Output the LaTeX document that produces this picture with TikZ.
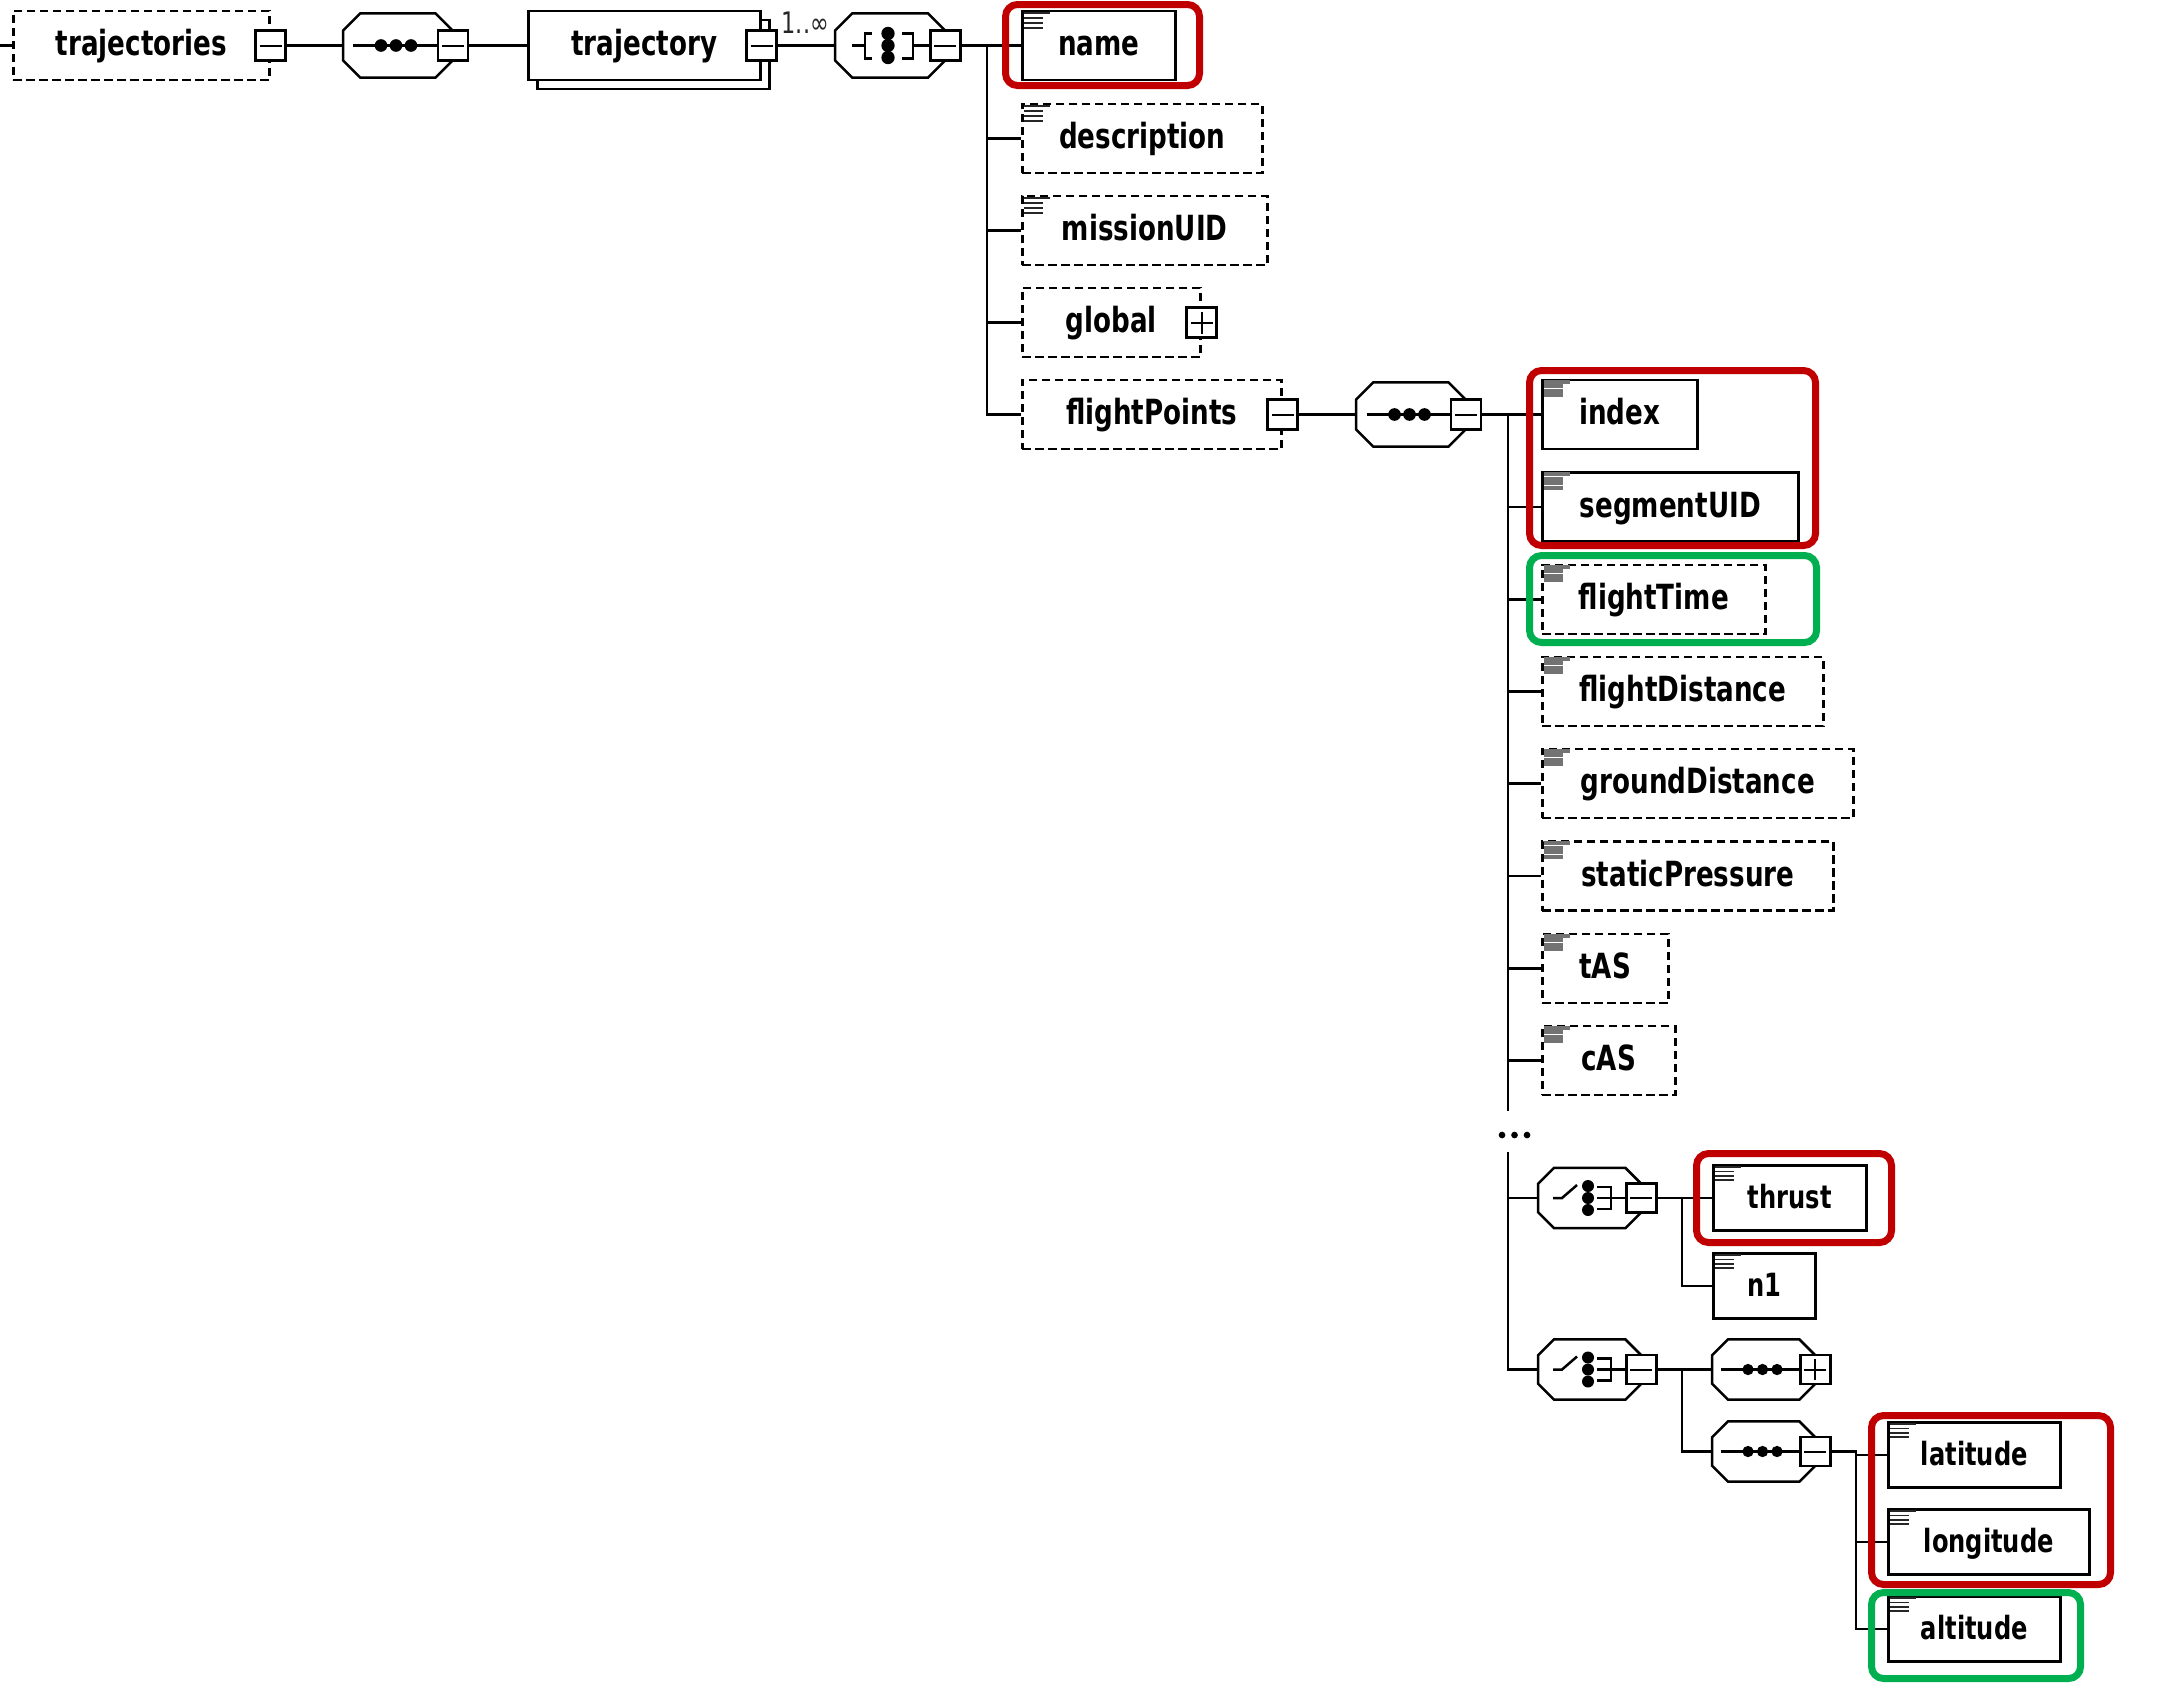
\documentclass[tikz,border=0pt]{standalone}
\usepackage{fontspec}
\usetikzlibrary{calc}
\newfontfamily\lblfont{DejaVu Sans}[FakeStretch=0.755]
\definecolor{hlred}{HTML}{C00000}
\definecolor{hlgreen}{HTML}{00B050}

% octagon outline drawn around a frameless placeholder node (#2 = chamfer)
\newcommand\octframe[2]{%
  \draw[ln,fill=white] ([xshift=#2]#1.north west) -- ([xshift=-#2]#1.north east)
    -- ([yshift=-#2]#1.north east) -- ([yshift=#2]#1.south east)
    -- ([xshift=-#2]#1.south east) -- ([xshift=#2]#1.south west)
    -- ([yshift=#2]#1.south west) -- ([yshift=-#2]#1.north west) -- cycle;}
% sequence compositor: line with three dots
\newcommand\seqicon[6]{%
  \draw[ln] ($(#1.west)+(#3,0)$) -- (#2.west);
  \foreach \k in {0,1,2}{\fill ($(#1.west)+(#4+\k*#5,0)$) circle (#6);}}
% choice compositor with switch symbol
\newcommand\switchicon[2]{%
  \draw[ln] ($(#1.west)+(15,0)$) -- ++(9,0) -- ++(15,-13);
  \foreach \k in {-12,0,12}{\fill ($(#1.west)+(50,\k)$) circle (1.8pt);}
  \draw[ln] ($(#1.west)+(59,-11)$) -- ++(14,0) -- ++(0,22) -- ++(-14,0);
  \draw[ln] ($(#1.west)+(59,0)$) -- (#2.west);}
% simple-content marker in the upper left corner of an element box
\newcommand\txticon[4]{%
  \draw[#2,line width=#3] ($(#1.north west)+(3,3)$) -- ++(26,0);
  \foreach \k in {1,2,3}{\draw[#2,line width=#3] ($(#1.north west)+(3,3+\k*#4)$) -- ++(19,0);}}

\begin{document}
\begin{tikzpicture}[x=0.3pt,y=-0.3pt,
  ln/.style={line width=0.75pt,draw=black},
  elem/.style={ln,fill=white,anchor=west,inner sep=0pt,minimum height=20.7pt,
    text height=6pt,text depth=0pt,font=\lblfont\bfseries\fontsize{10.4pt}{12pt}\selectfont},
  elemsm/.style={elem,minimum height=19.5pt,font=\lblfont\bfseries\fontsize{9.6pt}{11pt}\selectfont},
  opt/.style={dash pattern=on 2.5pt off 1.4pt},
  bw/.style={minimum width=#1*0.3pt},
  bh/.style={minimum height=#1*0.3pt},
  octa/.style={anchor=west,inner sep=0pt},
  btn/.style={ln,fill=white,inner sep=0pt,minimum width=9pt,minimum height=9pt},
  minusbtn/.style={btn,path picture={\draw[line width=0.6pt]
      ([xshift=1.2pt]path picture bounding box.west) -- ([xshift=-1.2pt]path picture bounding box.east);}},
  plusbtn/.style={btn,path picture={\draw[line width=0.6pt]
      ([xshift=1.2pt]path picture bounding box.west) -- ([xshift=-1.2pt]path picture bounding box.east)
      ([yshift=-1.2pt]path picture bounding box.north) -- ([yshift=1.2pt]path picture bounding box.south);}},
  smallbtn/.style={minimum height=8.7pt},
  hl/.style={line width=2.1pt,rounded corners=3.6pt},
]
\useasboundingbox (0,0) rectangle (2170,1683);

% ---------- top row ----------
\node[elem,opt,bw=256] (trajectories) at (12,45.5) {trajectories};
\node[minusbtn] (trajectoriesBtn) at (trajectories.east) {};

\node[octa,bw=108.5,bh=63] (seqTop) at (343,45.5) {};
\octframe{seqTop}{5.2pt}
\node[minusbtn] (seqTopBtn) at (seqTop.east) {};
\seqicon{seqTop}{seqTopBtn}{10}{38}{15}{1.9pt}

\node[elem,bw=232] (trajectoryCopy) at (536,54.5) {};
\node[elem,bw=232] (trajectory) at (527,45.5) {trajectory};
\node[minusbtn] (trajectoryBtn) at (trajectory.east) {};
\node[anchor=base west,inner sep=0pt,font=\lblfont\fontsize{8.9pt}{10pt}\selectfont,text=black!85]
  (occurs) at (781,33) {1..∞};

\node[octa,bw=109,bh=63] (choiceTop) at (835,45.5) {};
\octframe{choiceTop}{5.2pt}
\node[minusbtn] (choiceTopBtn) at (choiceTop.east) {};
\draw[ln] ($(choiceTop.west)+(17,0)$) -- ++(13,0) ++(7,-12) -- ++(-7,0) -- ++(0,25) -- ++(7,0);
\foreach \k in {-12,0,12}{\fill ($(choiceTop.west)+(53,\k)$) circle (2pt);}
\draw[ln] ($(choiceTop.west)+(67,-12)$) -- ++(11,0) -- ++(0,25) -- ++(-11,0);
\draw[ln] ($(choiceTop.west)+(78,0)$) -- (choiceTopBtn.west);

\coordinate (root) at (0,45.5);
\draw[ln] (root) -- (trajectories.west);
\draw[ln] (trajectoriesBtn.east) -- (seqTop.west);
\draw[ln] (seqTopBtn.east) -- (trajectory.west);
\draw[ln] (trajectoryBtn.east) -- (choiceTop.west);

% ---------- trajectory children ----------
\node[elem,bw=153] (name) at (1021,45.5) {name};
\node[elem,opt,bw=240] (description) at (1021,138.5) {description};
\node[elem,opt,bw=245] (missionUID) at (1021,230.5) {missionUID};
\node[elem,opt,bw=178] (global) at (1021,322.5) {global};
\node[plusbtn] (globalBtn) at (global.east) {};
\node[elem,opt,bw=259] (flightPoints) at (1021,414.5) {flightPoints};
\node[minusbtn] (flightPointsBtn) at (flightPoints.east) {};
\foreach \n in {name,description,missionUID}{\txticon{\n}{black!85}{0.5pt}{5}}

\coordinate (trunkA) at (987,45.5);
\draw[ln] (choiceTopBtn.east) -- (name.west);
\draw[ln] (trunkA) |- (flightPoints.west);
\foreach \n in {description,missionUID,global}{\draw[ln] (trunkA |- \n.west) -- (\n.west);}

% ---------- flight point sequence ----------
\node[octa,bw=108.5,bh=63] (pointSeq) at (1356,414.5) {};
\octframe{pointSeq}{5.2pt}
\node[minusbtn] (pointSeqBtn) at (pointSeq.east) {};
\seqicon{pointSeq}{pointSeqBtn}{11}{38.5}{15}{1.9pt}
\draw[ln] (flightPointsBtn.east) -- (pointSeq.west);

\node[elem,bw=155] (index) at (1541,414.5) {index};
\node[elem,bw=256] (segmentUID) at (1541,507) {segmentUID};
\node[elem,opt,bw=223] (flightTime) at (1541,599.5) {flightTime};
\node[elem,opt,bw=281] (flightDistance) at (1541,691.5) {flightDistance};
\node[elem,opt,bw=311] (groundDistance) at (1541,783.5) {groundDistance};
\node[elem,opt,bw=291] (staticPressure) at (1541,876) {staticPressure};
\node[elem,opt,bw=126] (tAS) at (1541,968.5) {tAS};
\node[elem,opt,bw=133] (cAS) at (1541,1060.5) {cAS};
\foreach \n in {index,segmentUID,flightTime,flightDistance,groundDistance,staticPressure,tAS,cAS}
  {\txticon{\n}{black!55}{1.1pt}{4.5}}

\coordinate (trunkB) at (1508,414.5);
\coordinate (trunkBend) at (1508,1111);
\draw[ln] (pointSeqBtn.east) -- (index.west);
\draw[ln] (trunkB) -- (trunkBend);
\foreach \n in {segmentUID,flightTime,flightDistance,groundDistance,staticPressure,tAS,cAS}
  {\draw[ln] (trunkB |- \n.west) -- (\n.west);}
\foreach \x in {1502,1514.5,1527}{\fill (\x,1135) circle (1pt);}

% ---------- engine choice ----------
\node[octa,bw=102,bh=59] (thrustChoice) at (1538,1198) {};
\octframe{thrustChoice}{4.8pt}
\node[minusbtn,smallbtn] (thrustChoiceBtn) at (thrustChoice.east) {};
\switchicon{thrustChoice}{thrustChoiceBtn}
\node[elemsm,bw=153] (thrust) at (1712,1198) {thrust};
\node[elemsm,bw=102] (n1) at (1712,1286) {n1};
\txticon{thrust}{black!85}{0.5pt}{4.2}
\txticon{n1}{black!85}{0.5pt}{4.2}

\coordinate (trunkC) at (1508,1152);
\coordinate (trunkD) at (1682,1198);
\draw[ln] (trunkC |- thrustChoice.west) -- (thrustChoice.west);
\draw[ln] (thrustChoiceBtn.east) -- (thrust.west);
\draw[ln] (trunkD) |- (n1.west);

% ---------- position choice ----------
\node[octa,bw=102,bh=59] (posChoice) at (1538,1369.5) {};
\octframe{posChoice}{4.8pt}
\node[minusbtn,smallbtn] (posChoiceBtn) at (posChoice.east) {};
\switchicon{posChoice}{posChoiceBtn}

\node[octa,bw=102,bh=59] (posSeqA) at (1712,1369.5) {};
\octframe{posSeqA}{4.8pt}
\node[plusbtn,smallbtn] (posSeqABtn) at (posSeqA.east) {};
\seqicon{posSeqA}{posSeqABtn}{9}{36}{14.5}{1.7pt}

\node[octa,bw=102,bh=59] (posSeqB) at (1712,1451.5) {};
\octframe{posSeqB}{4.8pt}
\node[minusbtn,smallbtn] (posSeqBBtn) at (posSeqB.east) {};
\seqicon{posSeqB}{posSeqBBtn}{9}{36}{14.5}{1.7pt}

\node[elemsm,bw=172] (latitude) at (1887,1455) {latitude};
\node[elemsm,bw=201] (longitude) at (1887,1542) {longitude};
\node[elemsm,bw=172] (altitude) at (1887,1629) {altitude};
\foreach \n in {latitude,longitude,altitude}{\txticon{\n}{black!85}{0.5pt}{4.2}}

\draw[ln] (trunkC) |- (posChoice.west);
\draw[ln] (posChoiceBtn.east) -- (posSeqA.west);
\coordinate (trunkE) at (1682,1369.5);
\draw[ln] (trunkE) |- (posSeqB.west);
\coordinate (trunkF) at (1856,1451.5);
\draw[ln] (posSeqBBtn.east) -- (trunkF) |- (altitude.west);
\draw[ln] (trunkF |- latitude.west) -- (latitude.west);
\draw[ln] (trunkF |- longitude.west) -- (longitude.west);

% ---------- highlight frames ----------
\draw[hl,hlred] (1005.5,4.5) rectangle (1199.5,85.5);
\draw[hl,hlred] (1529.5,370.5) rectangle (1815.5,545.5);
\draw[hl,hlgreen] (1529.5,555.5) rectangle (1816.5,642.5);
\draw[hl,hlred] (1696.5,1153.5) rectangle (1891.5,1242.5);
\draw[hl,hlred] (1871.5,1415.5) rectangle (2110.5,1584.5);
\draw[hl,hlgreen] (1871.5,1592.5) rectangle (2080.5,1678.5);
\end{tikzpicture}
\end{document}
